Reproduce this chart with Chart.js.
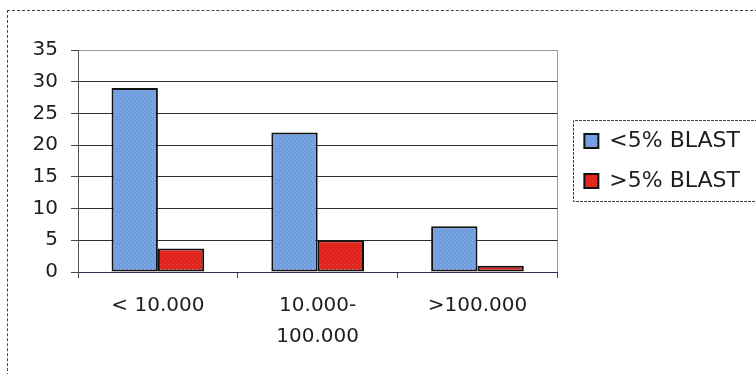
<!DOCTYPE html>
<html>
<head>
<meta charset="utf-8">
<script src="https://cdn.jsdelivr.net/npm/chart.js@4/dist/chart.umd.min.js"></script>
<style>
  html, body { margin: 0; padding: 0; background: #ffffff; }
  #wrap { position: relative; width: 756px; height: 374px; overflow: hidden; }
  #frame {
    position: absolute; left: 7px; top: 10px; width: 760px; height: 380px;
    border-left: 1px dashed #444; border-top: 1px dashed #444;
  }
  #c { position: absolute; left: 0; top: 0; }
</style>
</head>
<body>
<div id="wrap">
  <div id="frame"></div>
  <canvas id="c" width="756" height="374"></canvas>
</div>
<script>
// Leukocyte count groups and number of cases per blast group
const categories = ['< 10.000', ['10.000-', '100.000'], '>100.000'];
const seriesNames = ['<5% BLAST', '>5% BLAST'];
const lowBlast = [29, 22, 7.2];
const highBlast = [3.7, 5, 1];
const yMin = 0, yMax = 35, yStep = 5;

const FONT = '"DejaVu Sans", "Liberation Sans", Arial, sans-serif';
const TEXT = '#1e1e1e';

// speckled fill, like a printed halftone
function speckle(base, dot) {
  const p = document.createElement('canvas');
  p.width = 4; p.height = 4;
  const g = p.getContext('2d');
  g.fillStyle = base; g.fillRect(0, 0, 4, 4);
  g.fillStyle = dot;
  g.fillRect(0, 0, 1, 1); g.fillRect(2, 2, 1, 1);
  return g.createPattern(p, 'repeat');
}
const ctx = document.getElementById('c').getContext('2d');
const blueFill = speckle('#6c9de0', '#97bbee');
const redFill = speckle('#e2211b', '#ec4a40');

// grey frame round the plot area, drawn under the axes
const plotFrame = {
  id: 'plotFrame',
  beforeDraw(chart) {
    const a = chart.chartArea, g = chart.ctx;
    g.save();
    g.strokeStyle = '#9a9a9a';
    g.lineWidth = 1;
    g.strokeRect(Math.round(a.left) + 0.5, Math.round(a.top) + 0.5,
                 Math.round(a.right - a.left), Math.round(a.bottom - a.top));
    g.restore();
  }
};

// box round the legend entries
const legendFrame = {
  id: 'legendFrame',
  afterDraw(chart) {
    const hb = chart.legend && chart.legend.legendHitBoxes;
    if (!hb || !hb.length) return;
    const first = hb[0], last = hb[hb.length - 1];
    const g = chart.ctx;
    const x = Math.round(first.left - 11) + 0.5;
    const y = Math.round(first.top - 10) + 0.5;
    const b = Math.round(last.top + last.height + 9) + 0.5;
    g.save();
    g.strokeStyle = '#444';
    g.lineWidth = 1;
    g.setLineDash([3, 1]);
    g.beginPath();
    g.moveTo(chart.width + 2, y);
    g.lineTo(x, y);
    g.lineTo(x, b);
    g.lineTo(chart.width + 2, b);
    g.stroke();
    g.restore();
  }
};

new Chart(ctx, {
  type: 'bar',
  data: {
    labels: categories,
    datasets: [
      {
        label: seriesNames[0], data: lowBlast,
        backgroundColor: blueFill, borderColor: '#111', borderWidth: 2,
        borderSkipped: false, categoryPercentage: 0.58, barPercentage: 1.0
      },
      {
        label: seriesNames[1], data: highBlast,
        backgroundColor: redFill, borderColor: '#111', borderWidth: 2,
        borderSkipped: false, categoryPercentage: 0.58, barPercentage: 1.0
      }
    ]
  },
  options: {
    responsive: false,
    animation: false,
    devicePixelRatio: 1,
    layout: { padding: { left: 8, top: 50, right: 6, bottom: 0 } },
    plugins: {
      tooltip: { enabled: false },
      legend: {
        position: 'right',
        fullSize: false,
        maxWidth: 200,
        labels: {
          font: { family: FONT, size: 22 },
          color: TEXT,
          boxWidth: 14,
          boxHeight: 14,
          padding: 18
        }
      }
    },
    scales: {
      x: {
        grid: {
          offset: true, drawOnChartArea: false, drawTicks: true,
          tickLength: 6, color: '#444'
        },
        border: { display: true, color: '#2c3550', width: 1 },
        ticks: {
          font: { family: FONT, size: 20, lineHeight: 1.55 },
          color: TEXT, padding: 12, maxRotation: 0, autoSkip: false
        },
        afterFit(s) { s.height = 102; }
      },
      y: {
        min: yMin, max: yMax,
        grid: {
          color: c => (c.tick && (c.tick.value === yMin || c.tick.value === yMax)) ? 'rgba(0,0,0,0)' : '#2e2e2e',
          tickColor: '#444', tickLength: 7, drawTicks: true
        },
        border: { display: true, color: '#555', width: 1 },
        ticks: {
          stepSize: yStep,
          font: { family: FONT, size: 20 },
          color: TEXT, padding: 13
        },
        afterFit(s) { s.width = 70; }
      },
      gap: {
        type: 'linear', position: 'right', display: true,
        grid: { display: false }, border: { display: false },
        ticks: { display: false },
        min: 0, max: 1,
        afterFit(s) { s.width = 9; }
      }
    }
  },
  plugins: [plotFrame, legendFrame]
});
</script>
</body>
</html>
